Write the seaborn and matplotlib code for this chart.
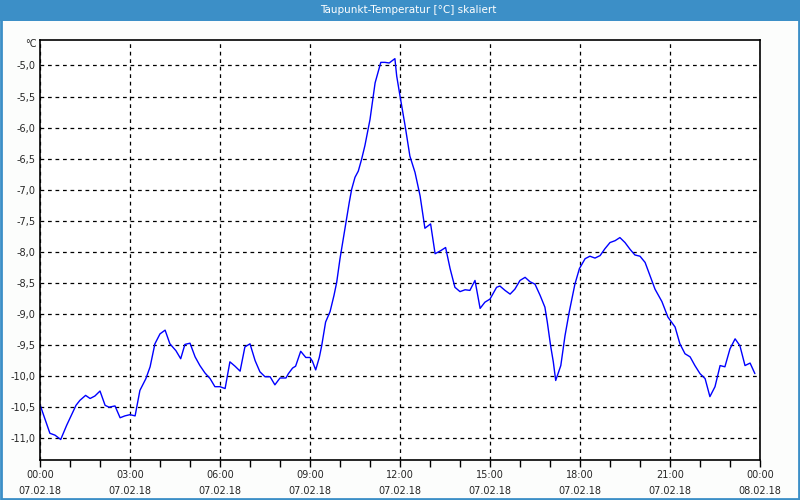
import matplotlib
matplotlib.use("Agg")
import matplotlib.pyplot as plt
import seaborn as sns
import pandas as pd
from matplotlib.ticker import MultipleLocator, FixedLocator, FuncFormatter
from matplotlib.patches import Rectangle

# ---- data ----
hours = [0.00, 0.33, 0.50, 0.69, 0.89, 1.20, 1.33, 1.52, 1.67, 1.83, 2.00, 2.17, 2.30, 2.50,
         2.67, 2.83, 3.00, 3.17, 3.33, 3.53, 3.67, 3.83, 4.00, 4.17, 4.33, 4.44, 4.53, 4.69,
         4.83, 5.00, 5.17, 5.33, 5.50, 5.67, 5.83, 6.00, 6.17, 6.33, 6.50, 6.67, 6.83, 7.00,
         7.17, 7.33, 7.50, 7.67, 7.83, 8.00, 8.20, 8.28, 8.42, 8.52, 8.69, 8.86, 9.00, 9.08,
         9.19, 9.31, 9.39, 9.52, 9.67, 9.80, 9.89, 10.00, 10.11, 10.22, 10.31, 10.39, 10.50,
         10.61, 10.72, 10.83, 11.00, 11.17, 11.36, 11.50, 11.64, 11.83, 11.89, 12.00, 12.17,
         12.33, 12.50, 12.67, 12.83, 13.02, 13.17, 13.36, 13.52, 13.67, 13.83, 14.00, 14.17,
         14.33, 14.50, 14.67, 14.83, 15.00, 15.22, 15.33, 15.50, 15.67, 15.83, 16.00, 16.17,
         16.33, 16.50, 16.67, 16.83, 16.91, 17.02, 17.11, 17.19, 17.36, 17.50, 17.64, 17.83,
         17.98, 18.17, 18.33, 18.50, 18.67, 18.83, 19.00, 19.17, 19.33, 19.50, 19.67, 19.83,
         20.00, 20.17, 20.33, 20.50, 20.73, 20.93, 21.17, 21.33, 21.50, 21.67, 21.83, 22.00,
         22.17, 22.33, 22.50, 22.67, 22.83, 23.00, 23.17, 23.33, 23.50, 23.67, 23.83]
dewpoint = [-10.46, -10.92, -10.95, -11.02, -10.79, -10.47, -10.39, -10.31, -10.36, -10.32,
            -10.24, -10.47, -10.50, -10.48, -10.67, -10.64, -10.62, -10.64, -10.23, -10.04,
            -9.85, -9.48, -9.32, -9.26, -9.48, -9.54, -9.59, -9.72, -9.49, -9.47, -9.69, -9.83,
            -9.95, -10.04, -10.17, -10.17, -10.20, -9.77, -9.84, -9.92, -9.53, -9.48, -9.75,
            -9.93, -10.01, -10.01, -10.14, -10.03, -10.03, -9.96, -9.87, -9.84, -9.60, -9.70,
            -9.70, -9.76, -9.90, -9.70, -9.51, -9.13, -8.96, -8.70, -8.49, -8.11, -7.79, -7.47,
            -7.20, -6.99, -6.80, -6.70, -6.51, -6.29, -5.87, -5.28, -4.95, -4.95, -4.96, -4.89,
            -5.17, -5.49, -5.97, -6.46, -6.72, -7.10, -7.62, -7.55, -8.03, -7.98, -7.93, -8.27,
            -8.57, -8.64, -8.61, -8.62, -8.46, -8.91, -8.81, -8.76, -8.57, -8.55, -8.62, -8.68,
            -8.60, -8.46, -8.41, -8.48, -8.52, -8.70, -8.89, -9.13, -9.51, -9.77, -10.07, -9.83,
            -9.35, -8.97, -8.52, -8.27, -8.11, -8.07, -8.10, -8.06, -7.95, -7.85, -7.82, -7.77,
            -7.85, -7.96, -8.05, -8.07, -8.17, -8.38, -8.60, -8.80, -9.05, -9.21, -9.48, -9.64,
            -9.69, -9.83, -9.96, -10.04, -10.33, -10.17, -9.83, -9.85, -9.56, -9.40, -9.51,
            -9.83, -9.79, -9.96]
xtick_hours = [0, 3, 6, 9, 12, 15, 18, 21, 24]
xtick_labels = ["00:00\n07.02.18", "03:00\n07.02.18", "06:00\n07.02.18", "09:00\n07.02.18",
                "12:00\n07.02.18", "15:00\n07.02.18", "18:00\n07.02.18", "21:00\n07.02.18",
                "00:00\n08.02.18"]
yticks = [-11.0, -10.5, -10.0, -9.5, -9.0, -8.5, -8.0, -7.5, -7.0, -6.5, -6.0, -5.5, -5.0]
title = "Taupunkt-Temperatur [°C] skaliert"
unit = "°C"

df = pd.DataFrame({"h": hours, "v": dewpoint})

sns.set_style("white")
plt.rcParams["font.family"] = ["DejaVu Sans"]

fig = plt.figure(figsize=(8, 5), dpi=100, facecolor="#fcfdfc")
ax = fig.add_axes([0.05, 0.08, 0.90, 0.84])
ax.set_facecolor("white")

sns.lineplot(data=df, x="h", y="v", ax=ax, color="#0000ff", linewidth=1.0, estimator=None)

ax.set_xlim(0, 24)
ax.set_ylim(-11.35, -4.59)
ax.xaxis.set_major_locator(FixedLocator(xtick_hours))
ax.set_xticklabels(xtick_labels)
ax.xaxis.set_minor_locator(MultipleLocator(1))
ax.yaxis.set_major_locator(FixedLocator(yticks))
ax.yaxis.set_major_formatter(FuncFormatter(lambda v, p: f"{v:.1f}".replace(".", ",")))
ax.set_xlabel("")
ax.set_ylabel("")

ax.tick_params(axis="x", which="both", direction="out", length=5, width=1, color="black",
               labelsize=7, pad=2, bottom=True)
ax.tick_params(axis="y", which="both", length=0, labelsize=7, pad=3)
for lab in ax.get_xticklabels():
    lab.set_linespacing(1.75)

ax.grid(True, which="major", color="black", linestyle=(0, (3, 3)), linewidth=0.9)
ax.grid(False, which="minor")
for s in ax.spines.values():
    s.set_visible(True)
    s.set_color("black")
    s.set_linewidth(1.2)

ax.text(-0.005, 0.99, unit, transform=ax.transAxes, ha="right", va="center", fontsize=7)

# title bar and border
fig.patches.append(Rectangle((0, 1 - 21 / 500), 1, 21 / 500, transform=fig.transFigure,
                             facecolor="#3c8fc7", edgecolor="none", zorder=0))
fig.patches.append(Rectangle((0.001, 0.003), 0.998, 0.995, transform=fig.transFigure,
                             facecolor="none", edgecolor="#3c8fc7", linewidth=2, zorder=1))
fig.text(0.51, 1 - 10 / 500, title, color="white", ha="center", va="center", fontsize=7.5)

fig.savefig("out.png", dpi=100, facecolor=fig.get_facecolor())
